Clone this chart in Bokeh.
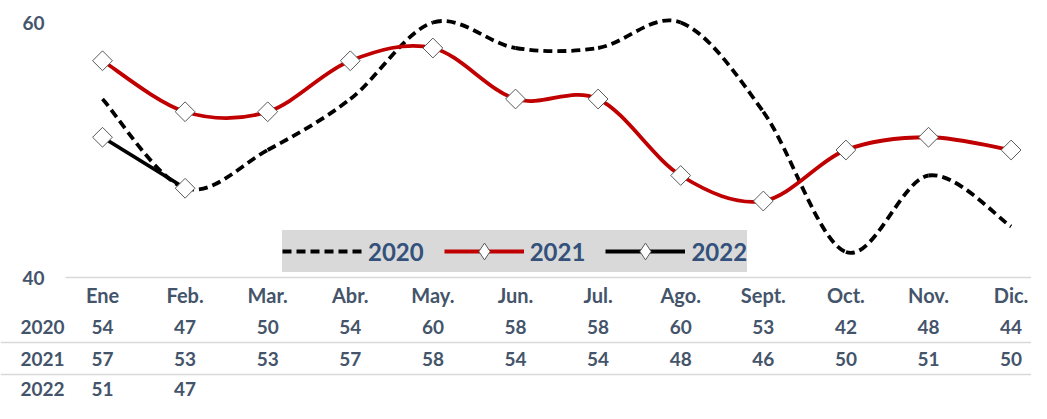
import numpy as np
from bokeh.plotting import figure
from bokeh.models import Range1d, Legend, LegendItem
from bokeh.core.properties import value
from bokeh.embed import file_html
from bokeh.resources import INLINE

# ---------------- data ----------------
months = ["Ene", "Feb.", "Mar.", "Abr.", "May.", "Jun.", "Jul.", "Ago.", "Sept.", "Oct.", "Nov.", "Dic."]
s2020 = [54, 47, 50, 54, 60, 58, 58, 60, 53, 42, 48, 44]
s2021 = [57, 53, 53, 57, 58, 54, 54, 48, 46, 50, 51, 50]
s2022 = [51, 47]
series_names = ["2020", "2021", "2022"]
y_ticks = [40, 60]

# ---------------- layout ----------------
W, H = 1031, 403
PX_CAT = 82.6      # pixels per month
PX_UNIT = 12.75    # pixels per value unit
X0 = -102.0 / PX_CAT
X1 = X0 + W / PX_CAT
Y1 = 60 + 22.0 / PX_UNIT
Y0 = Y1 - H / PX_UNIT


def py(pix_y):
    """convert a pixel row (from top) to data y"""
    return 40 - (pix_y - 277) / PX_UNIT


def px(pix_x):
    return X0 + pix_x / PX_CAT


TXT = "#44546A"
LEG_TXT = "#33517A"
FONT = value("Lato")

p = figure(width=W, height=H, output_backend="svg", toolbar_location=None,
           x_range=Range1d(X0, X1), y_range=Range1d(Y0, Y1),
           min_border=0, min_border_left=0, min_border_right=0,
           min_border_top=0, min_border_bottom=0)
p.xaxis.visible = False
p.yaxis.visible = False
p.xgrid.visible = False
p.ygrid.visible = False
p.outline_line_color = None
p.background_fill_color = "white"
p.border_fill_color = "white"

# baseline grid line at 40
p.segment(x0=[px(65)], y0=[y_ticks[0]], x1=[X1], y1=[y_ticks[0]],
          line_color="#D9D9D9", line_width=1.5)

# y tick labels
p.text(x=[px(22)] * len(y_ticks), y=y_ticks, text=[str(t) for t in y_ticks],
       text_font=FONT, text_font_style="bold", text_font_size="19px",
       text_color=TXT, text_align="left", text_baseline="middle")


def bezier_parts(ys):
    n = len(ys)
    xs = np.arange(n, dtype=float)
    ys = np.asarray(ys, dtype=float)
    ex = np.concatenate([[xs[0]], xs, [xs[-1]]])
    ey = np.concatenate([[ys[0]], ys, [ys[-1]]])
    cx0 = ex[1:n] + (ex[2:n + 1] - ex[0:n - 1]) / 6.0
    cy0 = ey[1:n] + (ey[2:n + 1] - ey[0:n - 1]) / 6.0
    cx1 = ex[2:n + 1] - (ex[3:n + 2] - ex[1:n]) / 6.0
    cy1 = ey[2:n + 1] - (ey[3:n + 2] - ey[1:n]) / 6.0
    return dict(x0=xs[:-1], y0=ys[:-1], x1=xs[1:], y1=ys[1:],
                cx0=cx0, cy0=cy0, cx1=cx1, cy1=cy1)


MK = dict(marker="square", angle=np.pi / 4, size=14,
          fill_color="white", line_color="#595959", line_width=1)
# diamond markers (used as legend swatches; drawn beneath the rotated squares)
DM = dict(marker="diamond", size=16,
          fill_color="white", line_color="#595959", line_width=1)

r2020 = p.bezier(**bezier_parts(s2020), line_color="black", line_width=3.8,
                 line_dash="9 5")

r2021 = p.bezier(**bezier_parts(s2021), line_color="#C00000", line_width=3.8)
d2021 = p.scatter(x=list(range(len(s2021))), y=s2021, **DM)
p.scatter(x=list(range(len(s2021))), y=s2021, **MK)

r2022 = p.line(x=list(range(len(s2022))), y=s2022, line_color="black", line_width=3.8)
d2022 = p.scatter(x=list(range(len(s2022))), y=s2022, **DM)
p.scatter(x=list(range(len(s2022))), y=s2022, **MK)

# ---------------- data table ----------------
ROW_MONTH = py(294)
ROW_Y = [py(326), py(358), py(388)]
SEP_Y = [py(342), py(374)]

p.segment(x0=[X0] * len(SEP_Y), y0=SEP_Y, x1=[X1] * len(SEP_Y), y1=SEP_Y,
          line_color="#D9D9D9", line_width=1.5)

p.text(x=list(range(len(months))), y=[ROW_MONTH] * len(months), text=months,
       text_font=FONT, text_font_style="bold", text_font_size="20px",
       text_color=TXT, text_align="center", text_baseline="middle")

for name, vals, ry in zip(series_names, [s2020, s2021, s2022], ROW_Y):
    p.text(x=[px(20)], y=[ry], text=[name],
           text_font=FONT, text_font_style="bold", text_font_size="19px",
           text_color=TXT, text_align="left", text_baseline="middle")
    p.text(x=list(range(len(vals))), y=[ry] * len(vals), text=[str(v) for v in vals],
           text_font=FONT, text_font_style="bold", text_font_size="19px",
           text_color=TXT, text_align="center", text_baseline="middle")

# ---------------- legend ----------------
legend = Legend(items=[
    LegendItem(label=series_names[0], renderers=[r2020]),
    LegendItem(label=series_names[1], renderers=[r2021, d2021]),
    LegendItem(label=series_names[2], renderers=[r2022, d2022]),
], orientation="horizontal", location=(282, 131),
    background_fill_color="#D9D9D9", background_fill_alpha=1.0,
    border_line_color=None, padding=0, margin=0, spacing=20,
    glyph_width=80, glyph_height=42, label_height=42, label_standoff=6,
    label_text_font="Lato", label_text_font_style="bold", label_text_font_size="24px",
    label_text_color=LEG_TXT, label_text_baseline="middle")
p.add_layout(legend, "center")

open("out.html", "w").write(file_html(p, INLINE))
